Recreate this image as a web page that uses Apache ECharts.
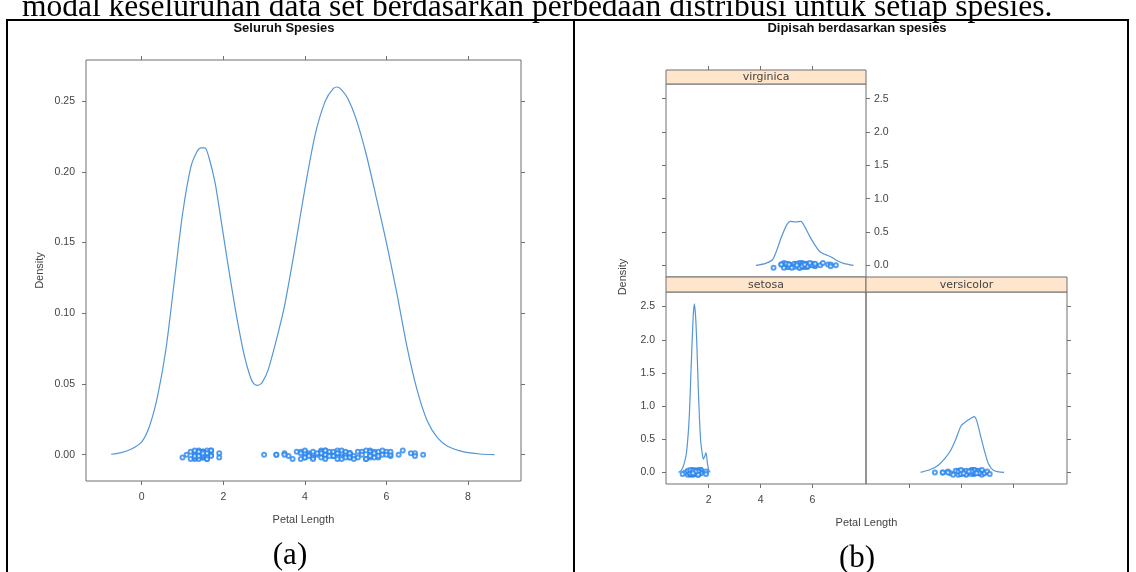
<!DOCTYPE html>
<html>
<head>
<meta charset="utf-8">
<script src="https://cdn.jsdelivr.net/npm/echarts@6/dist/echarts.min.js"></script>
<style>
html,body{margin:0;padding:0;background:#fff;}
#c{width:1136px;height:572px;}
</style>
</head>
<body>
<div id="c"></div>
<script>
// ---------- DATA ----------
// Panel (a): density of Petal Length for all species
const densAllX = [-0.75,-0.5,-0.25,0.0,0.2,0.4,0.6,0.8,1.0,1.2,1.35,1.45,1.55,1.65,1.8,1.95,2.1,2.3,2.5,2.65,2.75,2.85,2.95,3.1,3.3,3.5,3.75,4.0,4.25,4.5,4.7,4.8,4.9,5.05,5.25,5.5,5.75,6.0,6.25,6.5,6.75,7.0,7.25,7.5,7.9,8.3,8.65];
const densAllY = [0.0003,0.0015,0.004,0.009,0.021,0.043,0.076,0.123,0.170,0.203,0.214,0.217,0.217,0.210,0.192,0.165,0.137,0.102,0.072,0.056,0.050,0.049,0.051,0.060,0.081,0.105,0.145,0.188,0.226,0.250,0.259,0.260,0.258,0.252,0.238,0.213,0.182,0.150,0.115,0.077,0.046,0.024,0.012,0.006,0.002,0.0005,0.0];

// Panel (b): per-species densities
const densSetosaX = [0.84,0.95,1.05,1.15,1.25,1.32,1.4,1.45,1.5,1.55,1.6,1.65,1.7,1.75,1.8,1.86,1.9,1.95,2.0,2.06];
const densSetosaY = [0.0,0.03,0.12,0.30,0.80,1.50,2.30,2.54,2.35,1.90,1.30,0.80,0.45,0.30,0.20,0.25,0.30,0.15,0.04,0.0];
const densVersiX = [2.45,2.8,3.1,3.4,3.6,3.8,4.0,4.2,4.4,4.5,4.6,4.75,4.9,5.05,5.25,5.65];
const densVersiY = [0.0,0.04,0.10,0.22,0.33,0.50,0.70,0.77,0.82,0.84,0.78,0.55,0.32,0.13,0.03,0.0];
const densVirgX = [3.82,4.2,4.45,4.6,4.8,5.0,5.15,5.35,5.55,5.7,5.9,6.1,6.3,6.5,6.7,6.9,7.2,7.58];
const densVirgY = [0.0,0.03,0.08,0.20,0.42,0.60,0.66,0.65,0.66,0.58,0.43,0.30,0.20,0.16,0.13,0.08,0.03,0.0];

// Observed petal lengths (points along the bottom) and hand-read vertical jitter
const petalSetosa = [1.4,1.4,1.3,1.5,1.4,1.7,1.4,1.5,1.4,1.5,1.5,1.6,1.4,1.1,1.2,1.5,1.3,1.4,1.7,1.5,1.7,1.5,1.0,1.7,1.9,1.6,1.6,1.5,1.4,1.6,1.6,1.5,1.5,1.4,1.5,1.2,1.3,1.4,1.3,1.5,1.3,1.3,1.3,1.6,1.9,1.4,1.6,1.4,1.5,1.4];
const petalVersi = [4.7,4.5,4.9,4.0,4.6,4.5,4.7,3.3,4.6,3.9,3.5,4.2,4.0,4.7,3.6,4.4,4.5,4.1,4.5,3.9,4.8,4.0,4.9,4.7,4.3,4.4,4.8,5.0,4.5,3.5,3.8,3.7,3.9,5.1,4.5,4.5,4.7,4.4,4.1,4.0,4.4,4.6,4.0,3.3,4.2,4.2,4.2,4.3,3.0,4.1];
const petalVirg = [6.0,5.1,5.9,5.6,5.8,6.6,4.5,6.3,5.8,6.1,5.1,5.3,5.5,5.0,5.1,5.3,5.5,6.7,6.9,5.0,5.7,4.9,6.7,4.9,5.7,6.0,4.8,4.9,5.6,5.8,6.1,6.4,5.6,5.1,5.6,6.1,5.6,5.5,4.8,5.4,5.6,5.1,5.1,5.9,5.7,5.2,5.0,5.2,5.4,5.1];
const jitSetosa = [1,-2,0,2,-1,3,-3,1,0,-2,2,-1,1,0,-3,2,-2,1,3,-1,0,2,-2,-1,1,3,-3,0,2,-1,1,-2,0,3,-1,2,-3,1,-2,0,2,-1,3,1,-2,0,-3,2,1,-1];
const jitVersi = [-1,2,0,-2,1,3,-1,0,2,-3,1,-2,2,0,-1,3,-2,1,0,2,-3,1,-1,2,0,-2,3,1,-1,0,2,-3,1,-2,0,3,-1,2,0,-2,1,-1,3,0,-2,2,-3,1,0,-1];
const jitVirg = [2,-1,0,3,-2,1,-3,0,2,-1,1,-2,3,0,-1,2,-3,1,0,-2,2,1,-1,3,-2,0,1,-3,2,-1,0,3,-2,1,-1,2,0,-3,1,2,-1,0,-2,3,1,-1,2,-3,0,1];

// Tick labels
const xTicksA = [0,2,4,6,8];
const yTicksA = [0,0.05,0.10,0.15,0.20,0.25];
const xTicksB = [2,4,6];
const yTicksB = [0,0.5,1.0,1.5,2.0,2.5];

const stripNames = ['virginica','setosa','versicolor'];
const titleA = 'Seluruh Spesies';
const titleB = 'Dipisah berdasarkan spesies';
const xName = 'Petal Length';
const yName = 'Density';
const captionText = 'modal keseluruhan data set berdasarkan perbedaan distribusi untuk setiap spesies.';

// ---------- LAYOUT ----------
const G = {
  a:  {l:86,  t:60,  r:521,  b:481},
  vi: {l:666, t:84,  r:866,  b:277},
  se: {l:666, t:292, r:866,  b:484},
  ve: {l:866, t:292, r:1067, b:484}
};
const STRIP_VI = {y:70, h:14};
const STRIP_LOW = {y:277, h:15};
const LINE = '#707070';
const TXT = '#444';
const CURVE = '#5596d6';
const PT = '#2a86ee';
const rangeAx = [-1.367, 9.30], rangeAy = [-0.0186, 0.2791];
const rangeBx = [0.36, 8.06], rangeBy = [-0.175, 2.72];

function zip(xs, ys){ return xs.map((x,i)=>[x, ys[i]]); }
function pts(xs, js, s){ return xs.map((x,i)=>[x, js[i]*s]); }

function grid(g){
  return {left:g.l, top:g.t, width:g.r-g.l, height:g.b-g.t, show:true, borderColor:LINE, borderWidth:1,
          backgroundColor:'transparent', containLabel:false, outerBoundsMode:'none'};
}
const labelFont = {color:TXT, fontSize:10.5, fontFamily:'Liberation Sans, Arial, sans-serif'};
function ax(gi, pos, range, ticks, showLabel, extra){
  return Object.assign({
    gridIndex:gi, type:'value', position:pos, min:range[0], max:range[1],
    axisLine:{show:false, onZero:false},
    axisTick:{show:true, inside:false, length:4, customValues:ticks, lineStyle:{color:LINE, width:1}},
    axisLabel:Object.assign({show:showLabel, customValues:ticks, margin:11}, labelFont),
    splitLine:{show:false}
  }, extra||{});
}

const chart = echarts.init(document.getElementById('c'), null, {renderer:'canvas'});

const xAxis = [
  ax(0,'bottom',rangeAx,xTicksA,true,{name:xName, nameLocation:'middle', nameGap:33, nameTextStyle:{color:TXT,fontSize:11,fontFamily:'Liberation Sans, Arial, sans-serif'}}),
  ax(0,'top',rangeAx,xTicksA,false),
  ax(1,'top',rangeBx,xTicksB,false,{offset:STRIP_VI.h}),
  ax(2,'bottom',rangeBx,xTicksB,true),
  ax(3,'bottom',rangeBx,xTicksB,false)
];
const yAxis = [
  ax(0,'left',rangeAy,yTicksA,true,{name:yName, nameLocation:'middle', nameGap:41, nameRotate:90, nameTextStyle:{color:TXT,fontSize:11,fontFamily:'Liberation Sans, Arial, sans-serif'}}),
  ax(0,'right',rangeAy,yTicksA,false),
  ax(1,'left',rangeBy,yTicksB,false),
  ax(1,'right',rangeBy,yTicksB,true),
  ax(2,'left',rangeBy,yTicksB,true),
  ax(3,'right',rangeBy,yTicksB,false)
];
yAxis[0].axisLabel.formatter = v => v.toFixed(2);
yAxis[3].axisLabel.formatter = v => v.toFixed(1);
yAxis[3].axisLabel.margin = 8;
yAxis[4].axisLabel.formatter = v => v.toFixed(1);

function lineS(xi, yi, data){
  return {type:'line', xAxisIndex:xi, yAxisIndex:yi, data:data, smooth:0.25, showSymbol:false, silent:true,
          lineStyle:{color:CURVE, width:1.2}, z:3, clip:true};
}
function ptS(xi, yi, data){
  return {type:'scatter', xAxisIndex:xi, yAxisIndex:yi, data:data, symbol:'emptyCircle', symbolSize:4, silent:true,
          itemStyle:{color:PT, borderColor:PT, borderWidth:0.9, opacity:0.8}, z:4};
}

const series = [
  lineS(0,0,zip(densAllX,densAllY)),
  ptS(0,0,[].concat(pts(petalSetosa,jitSetosa,0.001),pts(petalVersi,jitVersi,0.001),pts(petalVirg,jitVirg,0.001))),
  lineS(2,2,zip(densVirgX,densVirgY)),
  ptS(2,2,pts(petalVirg,jitVirg,0.012)),
  lineS(3,4,zip(densSetosaX,densSetosaY)),
  ptS(3,4,pts(petalSetosa,jitSetosa,0.012)),
  lineS(4,5,zip(densVersiX,densVersiY)),
  ptS(4,5,pts(petalVersi,jitVersi,0.012))
];

function strip(x, y, w, h, label){
  return [
    {type:'rect', shape:{x:x, y:y, width:w, height:h}, style:{fill:'#ffe5cc', stroke:LINE, lineWidth:1}, z:10},
    {type:'text', x:x+w/2, y:y+h/2+0.5, style:{text:label, fill:TXT, fontSize:11, fontFamily:'DejaVu Sans, sans-serif', align:'center', verticalAlign:'middle'}, z:11}
  ];
}
const serif = 'Liberation Serif, Times New Roman, serif';
const graphic = [].concat(
  strip(G.vi.l, STRIP_VI.y, G.vi.r-G.vi.l, STRIP_VI.h, stripNames[0]),
  strip(G.se.l, STRIP_LOW.y, G.se.r-G.se.l, STRIP_LOW.h, stripNames[1]),
  strip(G.ve.l, STRIP_LOW.y, G.ve.r-G.ve.l, STRIP_LOW.h, stripNames[2]),
  [
    {type:'text', x:(G.se.l+G.ve.r)/2, y:517, style:{text:xName, fill:TXT, fontSize:11, fontFamily:'Liberation Sans, Arial, sans-serif', align:'center', verticalAlign:'top'}},
    {type:'text', x:623, y:277, rotation:Math.PI/2, style:{text:yName, fill:TXT, fontSize:11, fontFamily:'Liberation Sans, Arial, sans-serif', align:'center', verticalAlign:'middle'}},
    {type:'text', x:22, y:24, style:{text:captionText, fill:'#000', fontSize:31.5, fontFamily:serif, align:'left', verticalAlign:'bottom'}},
    {type:'text', x:290, y:556, style:{text:'(a)', fill:'#000', fontSize:31, fontFamily:serif, align:'center', verticalAlign:'middle'}},
    {type:'text', x:857, y:559, style:{text:'(b)', fill:'#000', fontSize:31, fontFamily:serif, align:'center', verticalAlign:'middle'}},
    {type:'text', x:284, y:28, style:{text:titleA, fill:'#111', fontSize:13, fontWeight:'bold', fontFamily:'Liberation Sans, Arial, sans-serif', align:'center', verticalAlign:'middle'}},
    {type:'text', x:857, y:28, style:{text:titleB, fill:'#111', fontSize:13, fontWeight:'bold', fontFamily:'Liberation Sans, Arial, sans-serif', align:'center', verticalAlign:'middle'}},
    {type:'line', shape:{x1:6, y1:20, x2:1129, y2:20}, style:{stroke:'#000', lineWidth:2}, z:20},
    {type:'line', shape:{x1:7, y1:20, x2:7, y2:572}, style:{stroke:'#000', lineWidth:2}, z:20},
    {type:'line', shape:{x1:574, y1:20, x2:574, y2:572}, style:{stroke:'#000', lineWidth:2}, z:20},
    {type:'line', shape:{x1:1128, y1:20, x2:1128, y2:572}, style:{stroke:'#000', lineWidth:2}, z:20}
  ]
);

chart.setOption({
  animation:false,
  backgroundColor:'#fff',
  grid:[grid(G.a), grid(G.vi), grid(G.se), grid(G.ve)],
  xAxis:xAxis,
  yAxis:yAxis,
  series:series,
  graphic:graphic
});
</script>
</body>
</html>
